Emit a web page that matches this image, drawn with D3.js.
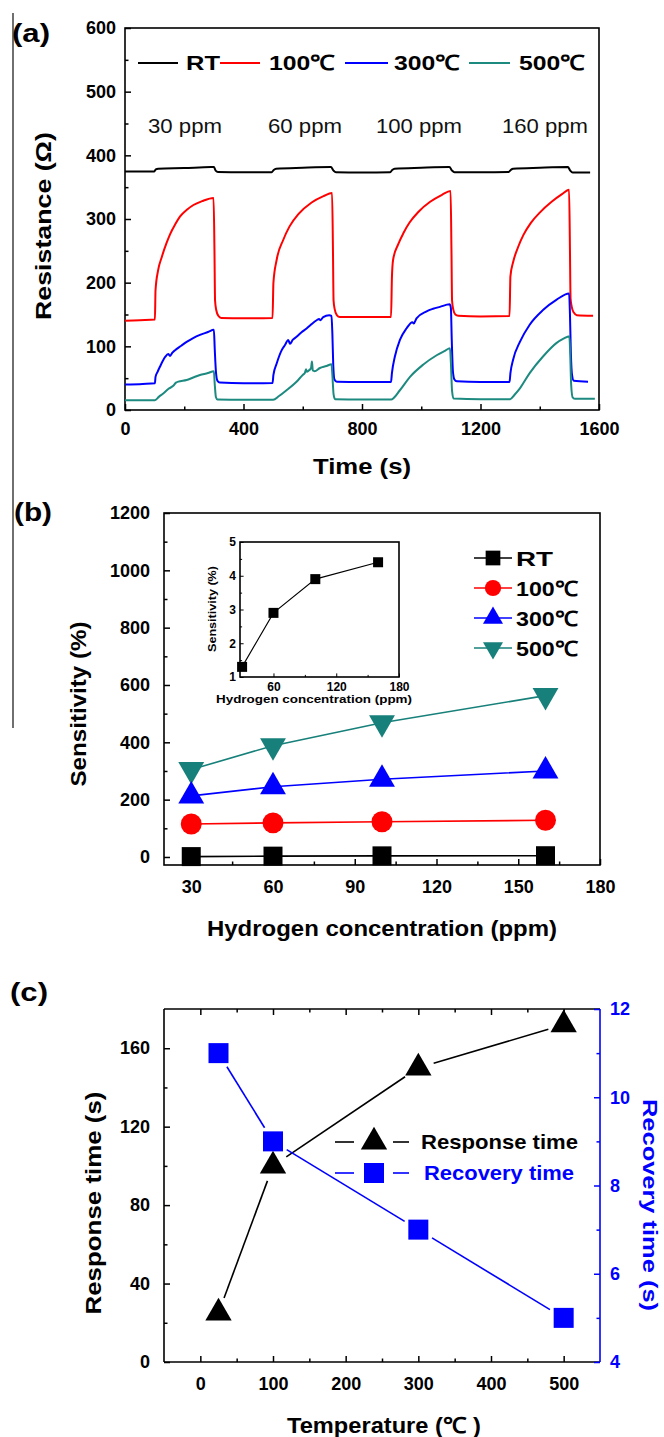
<!DOCTYPE html>
<html>
<head>
<meta charset="utf-8">
<script src="https://cdn.jsdelivr.net/npm/d3@7"></script>
<style>
  body { margin: 0; background: #fff; }
  text { font-family: "Liberation Sans", Arial, Helvetica, sans-serif; font-weight: bold; }
</style>
</head>
<body>
<svg id="fig" width="664" height="1437"></svg>
<script>
// ---------- (a) resistance vs time ----------
const timeTicks = [0, 400, 800, 1200, 1600];
const timeMinor = [200, 600, 1000, 1400];
const resTicks = [0, 100, 200, 300, 400, 500, 600];
const resMinor = [50, 150, 250, 350, 450, 550];
const seriesNamesA = ['RT', '100℃', '300℃', '500℃'];
const ppmLabels = ['30 ppm', '60 ppm', '100 ppm', '160 ppm'];

const rtCurve = [[0,374.5],[50,374.5],[98,374.5],[104,378],[112,379],[200,380],[290,381.5],[300,381.5],[306,376],[314,374],
  [400,373.5],[495,373.5],[502,377],[510,379],[600,380.5],[695,381.5],[704,376],[712,373.5],[800,373],[895,373.5],
  [902,377],[910,379],[1000,380.5],[1095,381.5],[1104,376],[1112,373.5],[1200,373.5],[1295,374],[1302,377],[1310,379],
  [1400,380.5],[1495,381.5],[1503,376],[1511,373],[1570,373]];
const c100Curve = [[0,140],[50,141],[101,142],[103,188],[112,220],[124,240],[140,262],[152,276],[170,292],[186,304],
  [210,315],[231,322],[260,328],[299,333],[302,250],[304,172],[308,157],[315,148],[325,144.5],[400,144],[498,144.5],
  [501,200],[512,236],[534,267],[555,288],[586,308],[630,326],[670,336],[699,341],[702,250],[704,172],[708,158],
  [715,149],[725,146],[800,146],[898,146],
  [901,208],[905,236],[922,260],[940,278],[960,294],[990,311],[1030,327],[1070,338],[1099,344],[1102,250],[1104,172],
  [1108,158],[1115,150],[1125,148],[1200,147],[1298,147.5],
  [1301,210],[1310,232],[1327,256],[1345,275],[1370,294],[1400,310],[1440,327],[1475,339],[1499,346],[1502,250],
  [1504,175],[1508,162],[1515,153],[1525,149],[1580,148]];
const c300Curve = [[0,40],[60,41],[101,42],[103,52],[110,60],[118,68],[135,83],[146,88],[152,85],[160,90],[169,94],
  [190,101],[208,107],[230,113],[253,118],[280,122.5],[300,126],[303,95],[307,60],[312,46],[320,43],[400,42],[498,42.5],
  [501,55],[512,73],[529,94],[540,102],[551,110],[557,104],[566,110],[579,115],[596,122],[613,128],[630,135],[647,141],
  [655,143],[660,141],[669,146],[689,149],[697,148],[700,120],[703,70],[707,48],[715,44.5],[800,44],[898,44],
  [901,58],[911,84],[928,110],[950,128],[970,138],[975,136],[984,144],[1018,155],[1040,159],[1063,162],[1096,166],
  [1100,160],[1103,110],[1107,60],[1112,48],[1120,45],[1200,44],[1298,44],
  [1301,58],[1310,79],[1333,107],[1366,134],[1411,157],[1456,173],[1499,183],[1502,150],[1505,90],[1509,55],
  [1515,46],[1563,44.5]];
const c500Curve = [[0,15.5],[60,15.5],[101,15.5],[115,21],[129,26],[146,33],[163,38],[172,43],[180,44.5],[208,47],
  [230,51],[253,55],[280,58],[300,61],[303,40],[307,20],[312,16.5],[400,16],[500,16],
  [520,22],[545,31],[579,44.5],[600,55],[607,58],[611,64],[614,60],[620,62],[628,66],[631,76],[634,62],[640,61],
  [658,66],[680,69],[697,72],[700,55],[704,25],[709,17],[800,16.5],[898,16.5],
  [928,31],[962,52],[1006,71],[1052,86],[1080,93],[1097,97],[1100,75],[1104,30],[1109,18],[1200,17],[1300,17],
  [1315,24],[1333,34],[1366,58],[1411,84],[1456,105],[1480,112],[1500,116],[1503,85],[1506,40],[1511,20],[1520,17.5],
  [1586,17.5]];

// ---------- (b) sensitivity vs concentration ----------
const concPpm = [30, 60, 100, 160];
const sensRT = [1.3, 2.9, 3.9, 4.4];
const sens100 = [115, 119, 123, 128];
const sens300 = [213, 245, 271, 300];
const sens500 = [305, 388, 468, 563];
const concTicks = [30, 60, 90, 120, 150, 180];
const concMinor = [45, 75, 105, 135, 165];
const sensTicks = [0, 200, 400, 600, 800, 1000, 1200];
const sensMinor = [100, 300, 500, 700, 900, 1100];
const insetTicksX = [60, 120, 180];
const insetMinorX = [90, 150];
const insetTicksY = [1, 2, 3, 4, 5];
const insetMinorY = [1.5, 2.5, 3.5, 4.5];

// ---------- (c) response / recovery vs temperature ----------
const tempC = [25, 100, 300, 500];
const responseTime = [25, 100, 150, 172];
const recoveryTime = [11, 9, 7, 5];
const tempTicks = [0, 100, 200, 300, 400, 500];
const tempMinor = [50, 150, 250, 350, 450];
const respTicks = [0, 40, 80, 120, 160];
const respMinor = [20, 60, 100, 140];
const recTicks = [4, 6, 8, 10, 12];
const recMinor = [5, 7, 9, 11];

const RED = '#ff0000', BLUE = '#0000ff', TEAL = '#1d8a80', TEAL_B = '#17807a';

const svg = d3.select('#fig');
svg.append('rect').attr('width', 664).attr('height', 1437).attr('fill', '#fff');

// helpers
function addAxis(parent, axisFn, scale, transform, major, minor, pad, fs, color) {
  const g = parent.append('g').attr('transform', transform).attr('color', color || '#000');
  g.call(axisFn(scale).tickValues(major).tickSize(-6).tickPadding(pad).tickFormat(d3.format('d')));
  if (minor) g.append('g').call(axisFn(scale).tickValues(minor).tickSize(-3.5).tickFormat(''));
  g.selectAll('.domain').remove();
  g.attr('font-size', fs);
  g.selectAll('line').attr('stroke-width', 1.5);
  return g;
}
function label(parent, txt, x, y, fs, len, opts = {}) {
  const t = parent.append('text').attr('x', x).attr('y', y).attr('font-size', fs)
    .attr('text-anchor', opts.anchor || 'start').attr('fill', opts.fill || '#000').text(txt);
  if (len) t.attr('textLength', len).attr('lengthAdjust', 'spacingAndGlyphs');
  if (opts.weight) t.style('font-weight', opts.weight);
  if (opts.rotate) t.attr('transform', `rotate(${opts.rotate},${x},${y})`);
  return t;
}
function frame(parent, x, y, color) {
  parent.append('rect').attr('x', x.range()[0]).attr('y', y.range()[1])
    .attr('width', x.range()[1] - x.range()[0]).attr('height', y.range()[0] - y.range()[1])
    .attr('fill', 'none').attr('stroke', color || '#000').attr('stroke-width', 1.6);
}
const sym = (type, size) => d3.symbol().type(type).size(size)();

// stray vertical rule at the far left
svg.append('line').attr('x1', 13).attr('x2', 13).attr('y1', 13).attr('y2', 728)
  .attr('stroke', '#333').attr('stroke-width', 1.4);

// ================= (a) =================
const gA = svg.append('g');
const xA = d3.scaleLinear([0, 1600], [125, 599]);
const yA = d3.scaleLinear([0, 600], [410, 28]);
frame(gA, xA, yA);
addAxis(gA, d3.axisBottom, xA, 'translate(0,410)', timeTicks, timeMinor, 12, 18);
addAxis(gA, d3.axisLeft, yA, 'translate(125,0)', resTicks, resMinor, 9, 18);

const lineA = d3.line().x(d => xA(d[0])).y(d => yA(d[1])).curve(d3.curveMonotoneX);
[[rtCurve, '#000'], [c100Curve, RED], [c300Curve, BLUE], [c500Curve, TEAL]].forEach(([data, c]) => {
  gA.append('path').datum(data).attr('d', lineA).attr('fill', 'none')
    .attr('stroke', c).attr('stroke-width', 2).attr('stroke-linejoin', 'round');
});

// legend (a)
const legA = [[138, 178, 186, 34], [220, 260, 269, 66], [345, 388, 394, 66], [469, 510, 519, 66]];
[['#000'], [RED], [BLUE], [TEAL]].forEach(([c], i) => {
  const [x1, x2, tx, tl] = legA[i];
  gA.append('line').attr('x1', x1).attr('x2', x2).attr('y1', 63).attr('y2', 63).attr('stroke', c).attr('stroke-width', 2);
  label(gA, seriesNamesA[i], tx, 70, 21, tl);
});
const ppmX = [[148, 74], [268, 74], [376, 86], [502, 86]];
ppmLabels.forEach((t, i) => label(gA, t, ppmX[i][0], 133, 20, ppmX[i][1], { weight: 'normal', fill: '#111' }));

label(gA, '(a)', 12, 42, 26, 38);
label(gA, 'Resistance (Ω)', 51, 226, 22, 188, { anchor: 'middle', rotate: -90 });
label(gA, 'Time (s)', 362, 474, 22, 98, { anchor: 'middle' });

// ================= (b) =================
const gB = svg.append('g');
const xB = d3.scaleLinear([20, 180], [164, 600]);
const yB = d3.scaleLinear([-28, 1200], [865, 513]);
frame(gB, xB, yB);
addAxis(gB, d3.axisBottom, xB, 'translate(0,865)', concTicks, concMinor, 15, 18);
addAxis(gB, d3.axisLeft, yB, 'translate(164,0)', sensTicks, sensMinor, 14, 18);

const seriesB = [
  { vals: sens500, color: TEAL_B, type: d3.symbolTriangle, size: 290, rot: 180, name: '500℃' },
  { vals: sens300, color: BLUE, type: d3.symbolTriangle, size: 290, rot: 0, name: '300℃' },
  { vals: sens100, color: RED, type: d3.symbolCircle, size: 345, rot: 0, name: '100℃' },
  { vals: sensRT, color: '#000', type: d3.symbolSquare, size: 361, rot: 0, name: 'RT' }
];
const lineB = d3.line().x(d => xB(d[0])).y(d => yB(d[1]));
seriesB.forEach(s => {
  const pts = concPpm.map((c, i) => [c, s.vals[i]]);
  gB.append('path').datum(pts).attr('d', lineB).attr('fill', 'none').attr('stroke', s.color).attr('stroke-width', 1.6);
  gB.selectAll(null).data(pts).join('path')
    .attr('transform', d => `translate(${xB(d[0])},${yB(d[1])}) rotate(${s.rot})`)
    .attr('d', sym(s.type, s.size)).attr('fill', s.color);
});

// legend (b)
const legRowsB = [558, 588, 618, 648];
seriesB.slice().reverse().forEach((s, i) => {
  const cy = legRowsB[i];
  gB.append('line').attr('x1', 474).attr('x2', 512).attr('y1', cy).attr('y2', cy).attr('stroke', s.color).attr('stroke-width', 1.6);
  gB.append('path').attr('transform', `translate(493,${cy}) rotate(${s.rot})`)
    .attr('d', sym(s.type, s.size * 0.6)).attr('fill', s.color);
  label(gB, s.name, 516, cy + 8, 21, s.name === 'RT' ? 37 : 62);
});

// inset
const xI = d3.scaleLinear([28, 180], [240, 399]);
const yI = d3.scaleLinear([1, 5], [677, 542]);
gB.append('rect').attr('x', 240).attr('y', 542).attr('width', 159).attr('height', 135).attr('fill', '#fff');
frame(gB, xI, yI);
const ia = addAxis(gB, d3.axisBottom, xI, 'translate(0,677)', insetTicksX, insetMinorX, 5, 12);
const il = addAxis(gB, d3.axisLeft, yI, 'translate(240,0)', insetTicksY, insetMinorY, 4, 12);
[ia, il].forEach(g => g.selectAll('line').attr('stroke-width', 1).attr('x2', function () { return d3.select(this).attr('x2') ? +d3.select(this).attr('x2') * 0.6 : null; }));
ia.selectAll('line').attr('y2', function () { return +d3.select(this).attr('y2') * 0.6; });
const insetPts = concPpm.map((c, i) => [c, sensRT[i]]);
gB.append('path').datum(insetPts).attr('d', d3.line().x(d => xI(d[0])).y(d => yI(d[1])))
  .attr('fill', 'none').attr('stroke', '#000').attr('stroke-width', 1.1);
gB.selectAll(null).data(insetPts).join('rect')
  .attr('x', d => xI(d[0]) - 5).attr('y', d => yI(d[1]) - 5).attr('width', 10).attr('height', 10).attr('fill', '#000');
label(gB, 'Sensitivity (%)', 216, 609, 10, 86, { anchor: 'middle', rotate: -90 });
label(gB, 'Hydrogen concentration (ppm)', 314, 703, 11, 196, { anchor: 'middle' });

label(gB, '(b)', 14, 521, 26, 38);
label(gB, 'Sensitivity (%)', 86, 704, 22, 165, { anchor: 'middle', rotate: -90 });
label(gB, 'Hydrogen concentration (ppm)', 382, 936, 22, 350, { anchor: 'middle' });

// ================= (c) =================
const gC = svg.append('g');
const xC = d3.scaleLinear([-50, 550], [164, 600]);
const yL = d3.scaleLinear([0, 180], [1362, 1009]);
const yR = d3.scaleLinear([4, 12], [1362, 1009]);
gC.append('line').attr('x1', 164).attr('x2', 600).attr('y1', 1009).attr('y2', 1009).attr('stroke', '#000').attr('stroke-width', 1.6);
gC.append('line').attr('x1', 164).attr('x2', 600).attr('y1', 1362).attr('y2', 1362).attr('stroke', '#000').attr('stroke-width', 1.6);
gC.append('line').attr('x1', 164).attr('x2', 164).attr('y1', 1009).attr('y2', 1362).attr('stroke', '#000').attr('stroke-width', 1.6);
gC.append('line').attr('x1', 600).attr('x2', 600).attr('y1', 1009).attr('y2', 1362).attr('stroke', BLUE).attr('stroke-width', 1.6);
addAxis(gC, d3.axisBottom, xC, 'translate(0,1362)', tempTicks, tempMinor, 15, 18);
const topAx = addAxis(gC, d3.axisTop, xC, 'translate(0,1009)', tempTicks, tempMinor, 0, 18);
topAx.selectAll('text').remove();
addAxis(gC, d3.axisLeft, yL, 'translate(164,0)', respTicks, respMinor, 14, 18);
addAxis(gC, d3.axisRight, yR, 'translate(600,0)', recTicks, recMinor, 10, 18, BLUE);

function gapped(pts, gap, color) {
  for (let i = 0; i < pts.length - 1; i++) {
    const [x1, y1] = pts[i], [x2, y2] = pts[i + 1];
    const L = Math.hypot(x2 - x1, y2 - y1), ux = (x2 - x1) / L, uy = (y2 - y1) / L;
    gC.append('line').attr('x1', x1 + ux * gap).attr('y1', y1 + uy * gap)
      .attr('x2', x2 - ux * gap).attr('y2', y2 - uy * gap).attr('stroke', color).attr('stroke-width', 1.6);
  }
}
const respPx = tempC.map((t, i) => [xC(t), yL(responseTime[i])]);
const recPx = tempC.map((t, i) => [xC(t), yR(recoveryTime[i])]);
gapped(respPx, 16, '#000');
gapped(recPx, 16, BLUE);
gC.selectAll(null).data(respPx).join('path').attr('transform', d => `translate(${d[0]},${d[1]})`)
  .attr('d', sym(d3.symbolTriangle, 300)).attr('fill', '#000');
gC.selectAll(null).data(recPx).join('rect')
  .attr('x', d => d[0] - 10).attr('y', d => d[1] - 10).attr('width', 20).attr('height', 20).attr('fill', BLUE);

// legend (c)
[[1142, '#000', 'Response time', 421, 157], [1173, BLUE, 'Recovery time', 424, 150]].forEach(([cy, c, t, tx, tl], i) => {
  gC.append('line').attr('x1', 335).attr('x2', 354).attr('y1', cy).attr('y2', cy).attr('stroke', c).attr('stroke-width', 1.6);
  gC.append('line').attr('x1', 393).attr('x2', 409).attr('y1', cy).attr('y2', cy).attr('stroke', c).attr('stroke-width', 1.6);
  if (i === 0) gC.append('path').attr('transform', `translate(374,${cy})`).attr('d', sym(d3.symbolTriangle, 300)).attr('fill', c);
  else gC.append('rect').attr('x', 364).attr('y', cy - 10).attr('width', 20).attr('height', 20).attr('fill', c);
  label(gC, t, tx, cy + 7, 21, tl, { fill: c });
});

label(gC, '(c)', 10, 1001, 26, 38);
label(gC, 'Response time (s)', 101, 1203, 22, 223, { anchor: 'middle', rotate: -90 });
label(gC, 'Recovery time (s)', 643, 1205, 21, 212, { anchor: 'middle', rotate: 90, fill: BLUE });
label(gC, 'Temperature (℃ )', 384, 1433, 22, 194, { anchor: 'middle' });
</script>
</body>
</html>
